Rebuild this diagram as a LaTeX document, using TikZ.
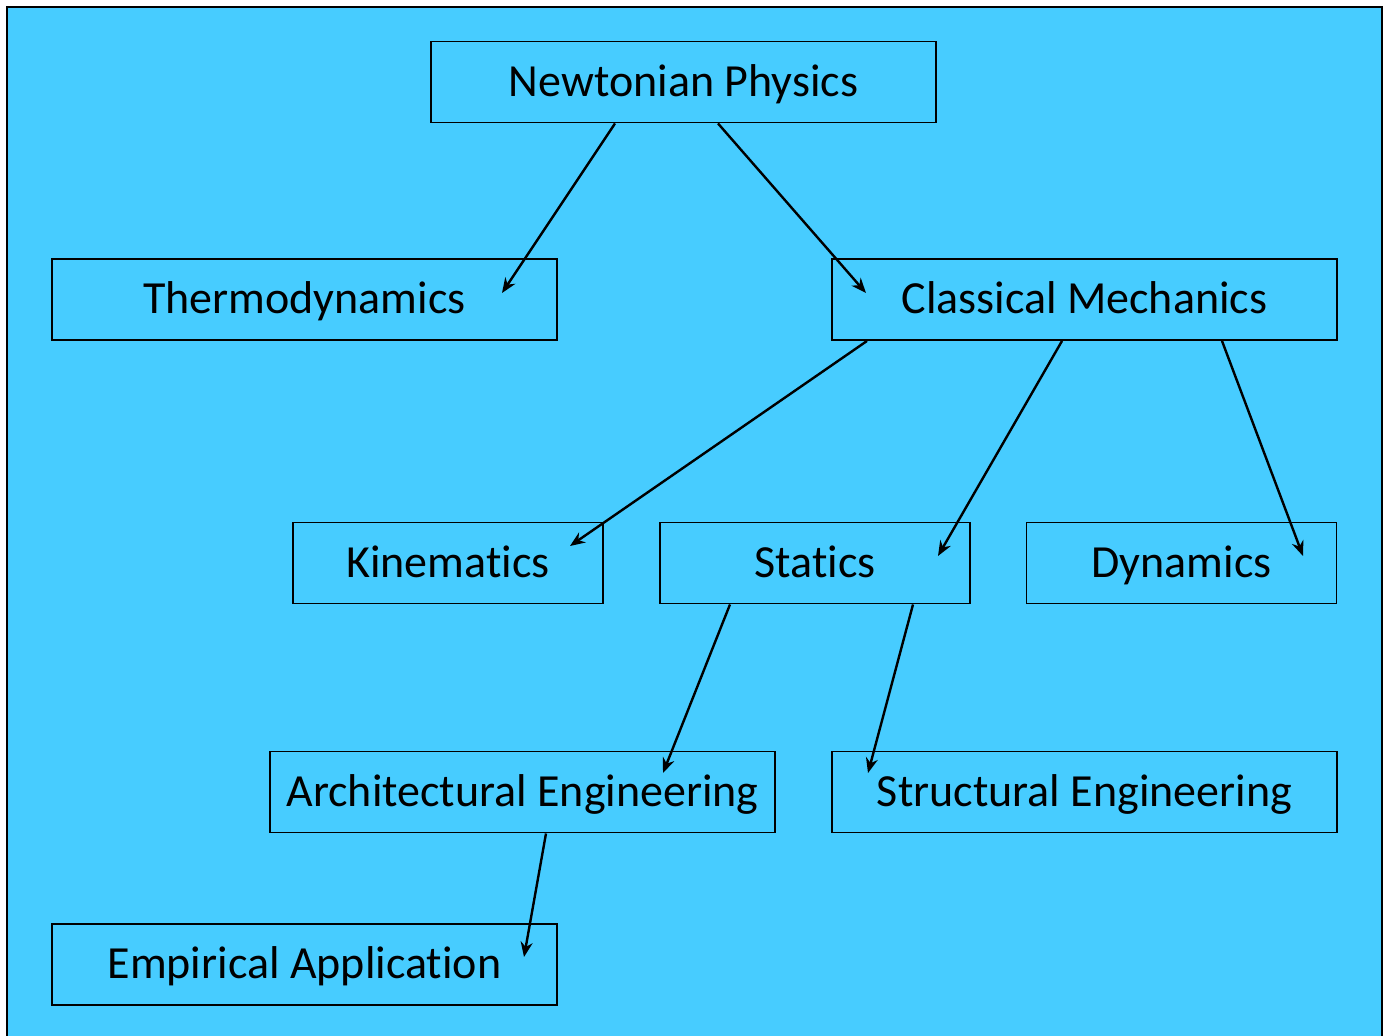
\documentclass[tikz,border=0pt]{standalone}
\usepackage{fontspec}
\setmainfont{Carlito}[Ligatures={NoCommon}]
\usetikzlibrary{arrows.meta}
\definecolor{bgblue}{RGB}{71,204,255}
\tikzset{
  box/.style={draw=black, line width=1.9pt, minimum height=81pt, inner sep=0pt,
    font=\fontsize{46}{52}\selectfont, text=black, text height=30pt, text depth=2pt},
  arr/.style={draw=black, line width=2.4pt, -{Stealth[length=15pt,width=12pt]}}
}
\begin{document}
\begin{tikzpicture}[x=1pt,y=-1pt]
\useasboundingbox (0,0) rectangle (1390,1036);
\fill[white] (0,0) rectangle (1390,1036);
\fill[bgblue] (7,7) rectangle (1382,1040);
\draw[black, line width=2pt] (7,1040) -- (7,7) -- (1382,7) -- (1382,1040);

\node[box, minimum width=505pt] (np) at (683.5,82) {Newtonian Physics};
\node[box, minimum width=505pt] (th) at (304.5,299.5) {Thermodynamics};
\node[box, minimum width=505pt] (cm) at (1084.5,299.5) {Classical Mechanics};
\node[box, minimum width=310pt] (ki) at (448,563) {Kinematics};
\node[box, minimum width=310pt] (st) at (815,563) {Statics};
\node[box, minimum width=310pt] (dy) at (1181.5,563) {Dynamics};
\node[box, minimum width=505pt] (ae) at (522.5,792) {Architectural Engineering};
\node[box, minimum width=505pt] (se) at (1084.5,792) {Structural Engineering};
\node[box, minimum width=505pt] (ea) at (304.5,964.5) {Empirical Application};

\draw[arr] ([xshift=-68.5pt]np.south) -- ([xshift=197.5pt,yshift=6.5pt]th.center);
\draw[arr] ([xshift=34.5pt]np.south) -- ([xshift=-218.5pt,yshift=6.5pt]cm.center);
\draw[arr] ([xshift=-217.5pt]cm.south) -- ([xshift=122pt,yshift=17pt]ki.center);
\draw[arr] ([xshift=-22.5pt]cm.south) -- ([xshift=123pt,yshift=7pt]st.center);
\draw[arr] ([xshift=137.5pt]cm.south) -- ([xshift=121.5pt,yshift=7pt]dy.center);
\draw[arr] ([xshift=-85pt]st.south) -- ([xshift=140.5pt,yshift=19pt]ae.center);
\draw[arr] ([xshift=98pt]st.south) -- ([xshift=-216.5pt,yshift=19pt]se.center);
\draw[arr] ([xshift=23.5pt]ae.south) -- ([xshift=219.5pt,yshift=7.5pt]ea.center);
\end{tikzpicture}
\end{document}
